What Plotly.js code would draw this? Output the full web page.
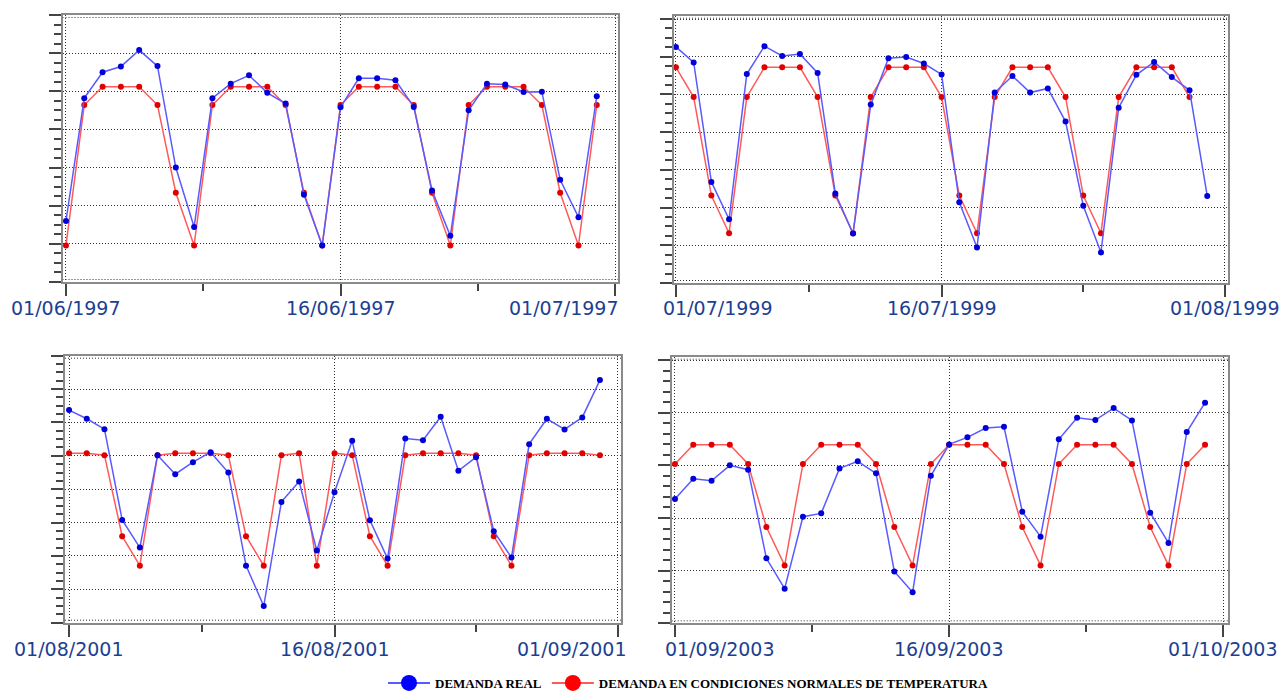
<!DOCTYPE html>
<html>
<head>
<meta charset="utf-8">
<script src="https://cdn.plot.ly/plotly-3.0.1.min.js"></script>
<style>html,body{margin:0;padding:0;background:#fff;}#chart{width:1281px;height:693px;}</style>
</head>
<body>
<div id="chart"></div>
<script>
// ---------- DATA ----------
const seriesNames = ['DEMANDA REAL', 'DEMANDA EN CONDICIONES NORMALES DE TEMPERATURA'];

const startTL = '1997-06-01';
const realTL = [380, 541, 575, 582.5, 604, 583, 450, 372, 541, 560, 571, 548, 534, 414.5, 348, 529, 567, 567, 564.5, 529.5, 420, 360.5, 525, 560, 559, 549, 549.5, 434, 385, 543.5];
const normTL = [348, 532, 556, 556, 556, 532, 417, 348, 532, 556, 556, 556, 532, 417, 348, 532, 556, 556, 556, 532, 417, 348, 532, 556, 556, 556, 532, 417, 348, 532];
const ticksTL = ['1997-06-01', '1997-06-16', '1997-07-01'];
const labelsTL = ['01/06/1997', '16/06/1997', '01/07/1997'];
const midTicksTL = ['1997-06-08 12:00', '1997-06-23 12:00'];

const startTR = '1999-07-01';
const realTR = [663, 642.5, 484, 434.5, 627, 664, 651, 653.5, 628.5, 468.5, 415.5, 586.5, 648, 649.5, 641, 626.5, 457, 397, 602.5, 624.5, 602.5, 608, 564, 452.5, 390.5, 582.5, 626, 643, 623, 605.5, 465.5];
const normTR = [636, 596.5, 466, 416, 596.5, 636, 636, 636, 596.5, 466, 416, 596.5, 636, 636, 636, 596.5, 466, 416, 596.5, 636, 636, 636, 596.5, 466, 416, 596.5, 636, 636, 636, 596.5];
const ticksTR = ['1999-07-01', '1999-07-16', '1999-08-01'];
const labelsTR = ['01/07/1999', '16/07/1999', '01/08/1999'];
const midTicksTR = ['1999-07-08 12:00', '1999-07-24'];

const startBL = '2001-08-01';
const realBL = [718.5, 705.5, 690, 554, 512.5, 651, 622.5, 640.5, 655.5, 625, 485.5, 425, 581, 611.5, 508, 595.5, 672.5, 553.5, 496, 676, 673.5, 708.5, 627.5, 648, 537, 497.5, 667.5, 705.5, 689.5, 707.5, 763.5];
const normBL = [654, 654, 651, 529.5, 485.5, 651, 654, 654, 654, 651, 529.5, 485.5, 651, 654, 485.5, 654, 651, 529.5, 485.5, 651, 654, 654, 654, 651, 529.5, 485.5, 651, 654, 654, 654, 651];
const ticksBL = ['2001-08-01', '2001-08-16', '2001-09-01'];
const labelsBL = ['01/08/2001', '16/08/2001', '01/09/2001'];
const midTicksBL = ['2001-08-08 12:00', '2001-08-24'];

const startBR = '2003-09-01';
const realBR = [518, 537.3, 535.4, 550, 545.9, 461.7, 432.9, 501.2, 504.4, 547.1, 553.8, 542.4, 449.3, 429.4, 540.1, 569.9, 576.6, 585.5, 586.7, 506, 482.3, 574.7, 595.2, 593, 604.4, 592.7, 505, 476.3, 581.7, 609.5];
const normBR = [551.3, 569.6, 569.6, 569.6, 551.3, 491.4, 455, 551.3, 569.6, 569.6, 569.6, 551.3, 491.4, 455, 551.3, 569.6, 569.6, 569.6, 551.3, 491.4, 455, 551.3, 569.6, 569.6, 569.6, 551.3, 491.4, 455, 551.3, 569.6];
const ticksBR = ['2003-09-01', '2003-09-16', '2003-10-01'];
const labelsBR = ['01/09/2003', '16/09/2003', '01/10/2003'];
const midTicksBR = ['2003-09-08 12:00', '2003-09-23 12:00'];

// ---------- HELPERS ----------
function daySeq(start, n) {
  const [Y, M, D] = start.split('-').map(Number);
  const out = [];
  for (let i = 0; i < n; i++) out.push(new Date(Date.UTC(Y, M - 1, D + i)).toISOString().slice(0, 10));
  return out;
}
function shiftDays(dateStr, days) {
  const t = Date.parse(dateStr.replace(' ', 'T') + (dateStr.length <= 10 ? 'T00:00:00Z' : 'Z'));
  return new Date(t + days * 86400000).toISOString().replace('T', ' ').replace('Z', '');
}

const W = 1281, H = 693;
const BLUE_LINE = '#5a5aff', BLUE_MK = '#0000d8';
const RED_LINE = '#ff5a5a', RED_MK = '#e00000';
const LABEL_COLOR = '#1d3f92';

// panel geometry (pixels) and styling
const panels = [
  {id: '', start: startTL, real: realTL, norm: normTL, ticks: ticksTL, labels: labelsTL, mids: midTicksTL,
   px: [62.5, 618], py: [15, 282], yr: [300, 650], minor: 12.5, pad: [0.19, 0.16],
   anchors: [['center', 0], ['center', 0], ['right', 6]], labelY: 306},
  {id: '2', start: startTR, real: realTR, norm: normTR, ticks: ticksTR, labels: labelsTR, mids: midTicksTR,
   px: [674, 1228.3], py: [15.7, 283], yr: [350, 704.4], minor: 12.5, pad: [0.11, 0.19],
   anchors: [['left', -15], ['center', 0], ['center', 0]], labelY: 306},
  {id: '3', start: startBL, real: realBL, norm: normBL, ticks: ticksBL, labels: labelsBL, mids: midTicksBL,
   px: [65, 621], py: [355.7, 622.7], yr: [400, 800], minor: 12.5, pad: [0.23, 0.19],
   anchors: [['center', 0], ['center', 0], ['right', 11]], labelY: 647.5},
  {id: '4', start: startBR, real: realBR, norm: normBR, ticks: ticksBR, labels: labelsBR, mids: midTicksBR,
   px: [671.7, 1227.7], py: [356.7, 623.3], yr: [400, 653.2], minor: 10, pad: [0.18, 0.24],
   anchors: [['left', -12], ['center', 0], ['center', 0]], labelY: 647.5}
];

const traces = [];
const layout = {
  width: W, height: H, autosize: false,
  margin: {l: 0, r: 0, t: 0, b: 0, pad: 0, autoexpand: false},
  paper_bgcolor: '#ffffff', plot_bgcolor: '#ffffff',
  showlegend: true,
  legend: {
    orientation: 'h', x: 383 / W, xanchor: 'left', y: 1 - 683 / H, yanchor: 'middle',
    font: {family: 'Liberation Serif, Times New Roman, serif', size: 13, color: '#000', weight: 'bold'},
    bgcolor: 'rgba(0,0,0,0)', borderwidth: 0, itemwidth: 42, tracegroupgap: 0
  },
  annotations: [], shapes: []
};

const gridDash = '1px,2px';
panels.forEach((p, k) => {
  const xa = 'x' + p.id, ya = 'y' + p.id;
  const xKey = 'xaxis' + p.id, yKey = 'yaxis' + p.id;
  const dates = daySeq(p.start, p.real.length);
  const datesN = daySeq(p.start, p.norm.length);
  traces.push({
    type: 'scatter', mode: 'lines+markers', x: datesN, y: p.norm, xaxis: xa, yaxis: ya,
    name: seriesNames[1], showlegend: false, cliponaxis: false,
    line: {color: RED_LINE, width: 1.5}, marker: {color: RED_MK, size: 6, symbol: 'circle'}
  });
  traces.push({
    type: 'scatter', mode: 'lines+markers', x: dates, y: p.real, xaxis: xa, yaxis: ya,
    name: seriesNames[0], showlegend: false, cliponaxis: false,
    line: {color: BLUE_LINE, width: 1.5}, marker: {color: BLUE_MK, size: 6, symbol: 'circle'}
  });
  layout[xKey] = {
    type: 'date', domain: [p.px[0] / W, p.px[1] / W], anchor: ya,
    range: [shiftDays(p.ticks[0], -p.pad[0]), shiftDays(p.ticks[2], p.pad[1])],
    tickmode: 'array', tickvals: p.ticks, showticklabels: false,
    ticks: 'outside', ticklen: 12, tickwidth: 2, tickcolor: '#444',
    showgrid: true, gridcolor: '#333', gridwidth: 1, griddash: gridDash,
    showline: true, mirror: true, linecolor: '#8a8a8a', linewidth: 2, zeroline: false,
    minor: {tickmode: 'array', tickvals: p.mids, ticks: 'outside', ticklen: 7, tickwidth: 2, tickcolor: '#444', showgrid: false},
    fixedrange: true
  };
  layout[yKey] = {
    domain: [1 - p.py[1] / H, 1 - p.py[0] / H], anchor: xa,
    range: p.yr, tickmode: 'linear', tick0: p.yr[0], dtick: 50, showticklabels: false,
    ticks: 'outside', ticklen: 12, tickwidth: 2, tickcolor: '#444',
    showgrid: true, gridcolor: '#333', gridwidth: 1, griddash: gridDash,
    showline: true, mirror: true, linecolor: '#8a8a8a', linewidth: 2, zeroline: false,
    minor: {tick0: p.yr[0], dtick: p.minor, ticks: 'outside', ticklen: 7, tickwidth: 2, tickcolor: '#444', showgrid: false},
    fixedrange: true
  };
  // inner dotted frame (top and bottom)
  const hpx = p.py[1] - p.py[0];
  [2.5 / hpx, 1 - 2.5 / hpx].forEach(fy => {
    layout.shapes.push({type: 'line', xref: xa + ' domain', yref: ya + ' domain', x0: 0, x1: 1, y0: fy, y1: fy,
      layer: 'below', line: {color: '#333', width: 1, dash: gridDash}});
  });
  // date labels
  p.labels.forEach((t, i) => {
    layout.annotations.push({
      text: t, xref: xa, x: p.ticks[i], yref: 'paper', y: 1 - (p.labelY + 1.5) / H,
      xanchor: p.anchors[i][0], xshift: p.anchors[i][1], yanchor: 'middle', showarrow: false,
      font: {family: 'DejaVu Sans, Verdana, sans-serif', size: 19, color: LABEL_COLOR}
    });
  });
});

// legend entries
traces.push({type: 'scatter', mode: 'lines+markers', x: [null], y: [null], xaxis: 'x', yaxis: 'y',
  name: seriesNames[0], line: {color: BLUE_LINE, width: 2}, marker: {color: '#0000ff', size: 16}});
traces.push({type: 'scatter', mode: 'lines+markers', x: [null], y: [null], xaxis: 'x', yaxis: 'y',
  name: seriesNames[1], line: {color: RED_LINE, width: 2}, marker: {color: '#ff0000', size: 16}});

Plotly.newPlot('chart', traces, layout, {displayModeBar: false, staticPlot: true});
</script>
</body>
</html>
